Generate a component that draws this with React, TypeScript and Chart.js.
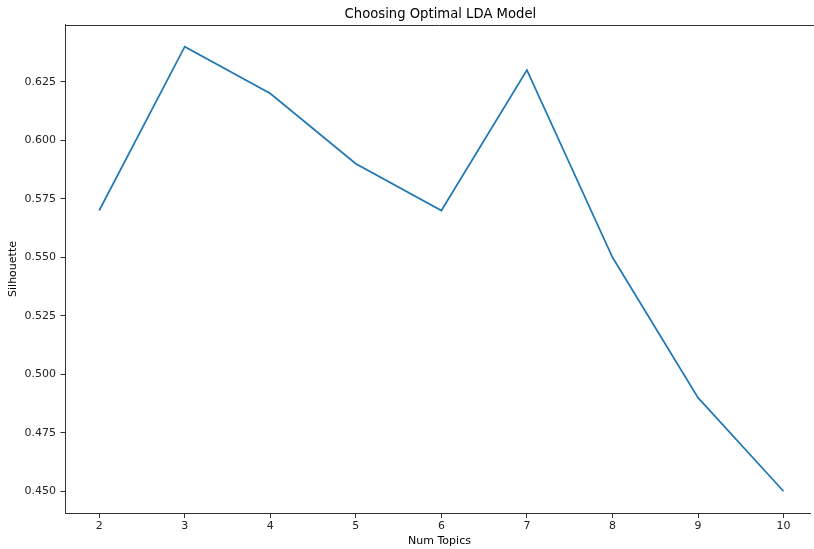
import React, { useEffect, useRef } from "react";
import { Chart, registerables } from "chart.js";

Chart.register(...registerables);

const numTopics = [2, 3, 4, 5, 6, 7, 8, 9, 10];
const silhouette = [0.57, 0.64, 0.62, 0.59, 0.57, 0.63, 0.55, 0.49, 0.45];
const yTicks = [0.45, 0.475, 0.5, 0.525, 0.55, 0.575, 0.6, 0.625];
const xTicks = [2, 3, 4, 5, 6, 7, 8, 9, 10];
const chartTitle = "Choosing Optimal LDA Model";
const xLabel = "Num Topics";
const yLabel = "Silhouette";

const FONT = "'DejaVu Sans', sans-serif";

const frameAndTitle = {
  id: "frameAndTitle",
  afterDraw(chart: any) {
    const { ctx, chartArea } = chart;
    ctx.save();
    // keep the cropped right side open, as in the reference
    ctx.fillStyle = "#fff";
    ctx.fillRect(chartArea.right - 3, Math.round(chartArea.top) + 1, 3, Math.round(chartArea.bottom) - Math.round(chartArea.top) - 1);
    ctx.strokeStyle = "#333";
    ctx.lineWidth = 1;
    ctx.beginPath();
    ctx.moveTo(chartArea.left, Math.round(chartArea.top) + 0.5);
    ctx.lineTo(chartArea.right, Math.round(chartArea.top) + 0.5);
    ctx.stroke();
    ctx.fillStyle = "#000";
    ctx.font = `13.2px ${FONT}`;
    ctx.textAlign = "center";
    ctx.textBaseline = "alphabetic";
    // axes centre lies beyond the visible right edge (axes are cropped at 814px)
    const axesRight = chartArea.left + (chartArea.right - chartArea.left) * (8.8 / 8.756);
    ctx.fillText(chartTitle, (chartArea.left + axesRight) / 2 - 1, 18);
    ctx.restore();
  },
};

export default function App() {
  const ref = useRef<HTMLCanvasElement>(null);
  useEffect(() => {
    if (!ref.current) return;
    const chart = new Chart(ref.current, {
      type: "line",
      data: {
        datasets: [
          {
            data: numTopics.map((x, i) => ({ x, y: silhouette[i] })),
            borderColor: "#1f77b4",
            borderWidth: 1.7,
            pointRadius: 0,
            tension: 0,
            fill: false,
          },
        ],
      },
      options: {
        animation: false,
        responsive: false,
        events: [],
        layout: { padding: { top: 24.5, left: 0, right: 0, bottom: 0 } },
        plugins: { legend: { display: false }, tooltip: { enabled: false }, title: { display: false } },
        scales: {
          x: {
            type: "linear",
            min: 1.6,
            max: 10.356,
            afterBuildTicks: (s: any) => {
              s.ticks = xTicks.map((v) => ({ value: v }));
            },
            afterFit: (s: any) => {
              s.height = 35.5;
            },
            grid: { display: true, drawOnChartArea: false, drawTicks: true, tickLength: 4.5, tickColor: "#333", lineWidth: 1 },
            border: { display: true, color: "#333", width: 1 },
            ticks: { color: "#222", font: { family: FONT, size: 11 }, padding: 2, autoSkip: false, maxRotation: 0, callback: (v: any) => String(v) },
            title: { display: true, text: xLabel, color: "#000", font: { family: FONT, size: 11 }, padding: { top: 0, bottom: 1 } },
          },
          y: {
            type: "linear",
            min: 0.4405,
            max: 0.6495,
            afterBuildTicks: (s: any) => {
              s.ticks = yTicks.map((v) => ({ value: v }));
            },
            afterFit: (s: any) => {
              s.width = 65;
            },
            grid: { display: true, drawOnChartArea: false, drawTicks: true, tickLength: 4.5, tickColor: "#333", lineWidth: 1 },
            border: { display: true, color: "#333", width: 1 },
            ticks: { color: "#222", font: { family: FONT, size: 11 }, padding: 4.5, callback: (v: any) => Number(v).toFixed(3) },
            title: { display: true, text: yLabel, color: "#000", font: { family: FONT, size: 11 }, padding: { top: 7, bottom: 0 } },
          },
        },
      },
      plugins: [frameAndTitle],
    });
    return () => chart.destroy();
  }, []);
  return (
    <div style={{ position: "fixed", left: 0, top: 0, width: 814, height: 549, overflow: "hidden", background: "#fff" }}>
      <canvas ref={ref} width={814} height={549} style={{ width: 814, height: 549, display: "block" }} />
    </div>
  );
}
